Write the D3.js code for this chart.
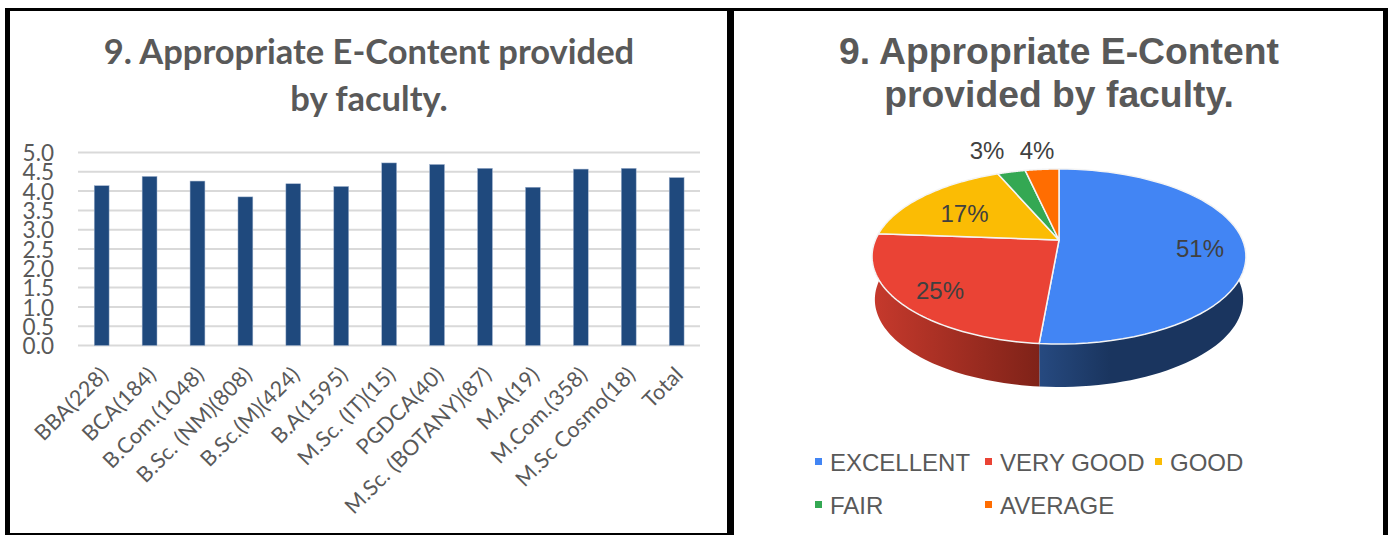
<!DOCTYPE html>
<html><head><meta charset="utf-8">
<script src="https://cdn.jsdelivr.net/npm/d3@7"></script>
<style>html,body{margin:0;padding:0;background:#fff}svg{display:block}</style>
</head><body><svg id="c" width="1392" height="535"></svg>
<script>
const chartTitleLines = ["9. Appropriate E-Content provided", "by faculty."];
const categories = ["BBA(228)","BCA(184)","B.Com.(1048)","B.Sc. (NM)(808)","B.Sc.(M)(424)","B.A(1595)","M.Sc. (IT)(15)","PGDCA(40)","M.Sc. (BOTANY)(87)","M.A(19)","M.Com.(358)","M.Sc Cosmo(18)","Total"];
const scores = [4.14,4.38,4.26,3.85,4.19,4.12,4.73,4.69,4.59,4.10,4.57,4.59,4.35];
const yTicks = [0,0.5,1,1.5,2,2.5,3,3.5,4,4.5,5];
const pieTitleLines = ["9. Appropriate E-Content", "provided by faculty."];
const ratings = ["EXCELLENT","VERY GOOD","GOOD","FAIR","AVERAGE"];
const ratingShares = [51.4,24.8,17.4,2.9,3.5];
const ratingColors = ["#4285f4","#ea4335","#fbbc04","#34a853","#ff6d01"];

const svg = d3.select("#c");
// panel frames
const frame=[[5,8,5,527],[5,8,725,3],[5,533,725,2],[727,8,7,527],[727,8,661,3],[1383,8,5,527]];
svg.selectAll("rect.f").data(frame).join("rect").attr("class","f")
 .attr("x",d=>d[0]).attr("y",d=>d[1]).attr("width",d=>d[2]).attr("height",d=>d[3]).attr("fill","#000");

// bar chart
const g = svg.append("g");
g.selectAll("text.t").data(chartTitleLines).join("text").attr("class","t")
 .attr("x",369).attr("y",(d,i)=>64+i*47).attr("text-anchor","middle")
 .attr("font-family","Lato").attr("font-weight",700).attr("font-size",34.5).attr("fill","#595959").text(d=>d);
const x = d3.scaleBand().domain(categories).range([77.7,700.6]).paddingInner(0.69).paddingOuter(0.345);
const y = d3.scaleLinear().domain([0,5]).range([345.5,152.5]);
g.selectAll("line.g").data(yTicks).join("line").attr("class","g")
 .attr("x1",78).attr("x2",700).attr("y1",d=>y(d)).attr("y2",d=>y(d)).attr("stroke","#d9d9d9").attr("stroke-width",2);
const yAxis = g.append("g").attr("transform","translate(59,0)").call(d3.axisLeft(y).tickValues(yTicks).tickFormat(d3.format(".1f")).tickSize(0).tickPadding(5));
yAxis.select(".domain").remove();
yAxis.selectAll("text").attr("font-family","Lato").attr("font-size",22.5).attr("fill","#595959").attr("x",-5).attr("dy","0.36em");
g.selectAll("rect.b").data(scores).join("rect").attr("class","b")
 .attr("x",(d,i)=>x(categories[i])).attr("width",x.bandwidth()).attr("y",d=>y(d)).attr("height",d=>y(0)-y(d))
 .attr("fill","#1f497d").attr("stroke","#9fb2cd").attr("stroke-width",0.5);
g.selectAll("text.c").data(categories).join("text").attr("class","c")
 .attr("font-family","Lato").attr("font-size",21.5).attr("letter-spacing",0.3).attr("fill","#595959").attr("text-anchor","end")
 .attr("transform",d=>`translate(${x(d)+x.bandwidth()/2+8},${376}) rotate(-45)`).text(d=>d);

// perspective pie
const pCx=1059, pApex=240, pRx=183.6, pRy=84.4, pK=0.1886, depth=43, lowScale=0.985;
const proj=(a,r=1)=>{const u=Math.sin(a)*r, v=-Math.cos(a)*r, w=1-pK*v; return [pCx+pRx*u/w, pApex+pRy*v/w];};
const low=(a)=>{const p=proj(a); return [pCx+(p[0]-pCx)*lowScale, p[1]+depth];};
const arcs=d3.pie().sort(null)(ratingShares);
const range=(a0,a1)=>d3.range(0,61).map(i=>a0+(a1-a0)*i/60);
const line=d3.line();
const defs=svg.append("defs");
const grad=(id,x1,x2,c)=>{const l=defs.append("linearGradient").attr("id",id).attr("gradientUnits","userSpaceOnUse").attr("x1",x1).attr("x2",x2).attr("y1",0).attr("y2",0);
 c.forEach((s,i)=>l.append("stop").attr("offset",i/(c.length-1)).attr("stop-color",s));};
grad("sideB",1041,1110,["#26497f","#1a355f"]);
grad("sideR",875,1041,["#c5392c","#7e2218"]);
const sideSpec=[[Math.PI*0.3,arcs[0].endAngle,"url(#sideB)"],[arcs[1].startAngle,Math.PI*1.55,"url(#sideR)"]];
sideSpec.forEach(([a0,a1,f])=>{const as=range(a0,a1);
 svg.append("path").attr("d",line(as.map(a=>proj(a)).concat(as.slice().reverse().map(low)))+"Z").attr("fill",f);});
arcs.forEach((s,i)=>{const pts=[[pCx,pApex]].concat(range(s.startAngle,s.endAngle).map(a=>proj(a)));
 svg.append("path").attr("d",line(pts)+"Z").attr("fill",ratingColors[i]).attr("stroke","#f4f4f4").attr("stroke-width",1.5).attr("stroke-linejoin","round");});
svg.selectAll("text.pt").data(pieTitleLines).join("text").attr("class","pt")
 .attr("x",1059).attr("y",(d,i)=>64+i*43).attr("text-anchor","middle")
 .attr("font-family","Liberation Sans").attr("font-weight",700).attr("font-size",37.3).attr("fill","#595959").text(d=>d);
const labelPos=[[1200,257],[940,299],[964.5,222],[987,159],[1037,159]];
svg.selectAll("text.pl").data(ratingShares).join("text").attr("class","pl")
 .attr("x",(d,i)=>labelPos[i][0]).attr("y",(d,i)=>labelPos[i][1]).attr("text-anchor","middle")
 .attr("font-family","Liberation Sans").attr("font-size",24).attr("fill","#404040").text(d=>Math.round(d)+"%");
const legPos=[[815,462],[985,462],[1155,462],[815,505],[985,505]];
const leg=svg.selectAll("g.l").data(ratings).join("g").attr("class","l").attr("transform",(d,i)=>`translate(${legPos[i][0]},${legPos[i][1]})`);
leg.append("rect").attr("x",0).attr("y",-4).attr("width",7).attr("height",7).attr("fill",(d,i)=>ratingColors[i]);
leg.append("text").attr("x",15).attr("y",8.5).attr("font-family","Liberation Sans").attr("font-size",24).attr("fill","#595959").text(d=>d);
</script></body></html>
